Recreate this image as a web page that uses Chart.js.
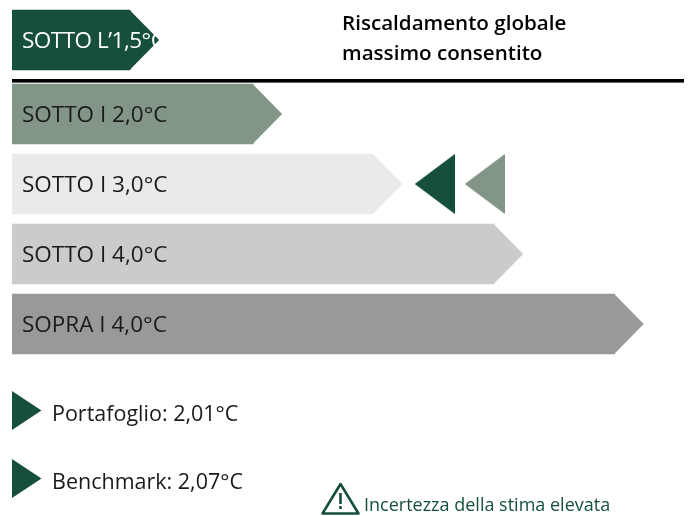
<!DOCTYPE html>
<html>
<head>
<meta charset="utf-8">
<style>
  html, body { margin: 0; padding: 0; background: #fff; }
  canvas { display: block; }
</style>
<script src="https://cdn.jsdelivr.net/npm/chart.js@4"></script>
</head>
<body>
<canvas id="tempChart" width="690" height="516"></canvas>
<script>
// categories and bar lengths (in band units, each band is one step on the scale)
const categories = ['SOTTO L\u20191,5°C', 'SOTTO I 2,0°C', 'SOTTO I 3,0°C', 'SOTTO I 4,0°C', 'SOPRA I 4,0°C'];
const barLengths = [0.98, 2, 3, 4, 5];
const rowPositions = [0.943, 2, 3, 4, 5];
const barColors = ['#174f3f', '#839586', '#ebe9ea', '#cbcbcb', '#999999'];
const labelColors = ['#ffffff', '#1a1a1a', '#1a1a1a', '#1a1a1a', '#1a1a1a'];

// where the two markers sit inside the 3,0°C row
const portfolioMarker = [3.507];
const benchmarkMarker = [3.922];
const markerRow = [3];

const titleLines = ['Riscaldamento globale', 'massimo consentito'];
const legendLabels = ['Portafoglio: 2,01°C', 'Benchmark: 2,07°C'];
const warningLabel = 'Incertezza della stima elevata';

const DARK = '#174f3f';
const SAGE = '#839586';
const FONT = '"Open Sans", sans-serif';

// left pointing triangle used as point image
function triangleImage(color) {
    const c = document.createElement('canvas');
    c.width = 40;
    c.height = 60;
    const g = c.getContext('2d');
    g.fillStyle = color;
    g.beginPath();
    g.moveTo(0, 30);
    g.lineTo(40, 0);
    g.lineTo(40, 60);
    g.closePath();
    g.fill();
    return c;
}

// arrow tips and the labels on the bars
const barDecor = {
    id: 'barDecor',
    afterDatasetsDraw(chart) {
        const ctx = chart.ctx;
        const bars = chart.getDatasetMeta(0).data;
        ctx.save();
        bars.forEach((bar, i) => {
            ctx.fillStyle = barColors[i];
            ctx.beginPath();
            ctx.moveTo(bar.x - 0.5, bar.y - 30);
            ctx.lineTo(bar.x + 29, bar.y);
            ctx.lineTo(bar.x - 0.5, bar.y + 30);
            ctx.closePath();
            ctx.fill();

            ctx.fillStyle = labelColors[i];
            ctx.font = '22.5px ' + FONT;
            ctx.letterSpacing = i === 0 ? '-0.5px' : '0px'; // first label runs into the tip
            ctx.textAlign = 'left';
            ctx.textBaseline = 'alphabetic';
            ctx.fillText(categories[i], 22, bar.y + 8);
        });
        ctx.restore();
    }
};

// header, rule, legend and warning note
const pageDecor = {
    id: 'pageDecor',
    afterDraw(chart) {
        const ctx = chart.ctx;
        ctx.save();
        ctx.textAlign = 'left';
        ctx.textBaseline = 'alphabetic';

        ctx.fillStyle = '#000';
        ctx.font = '600 20.6px ' + FONT;
        ctx.fillText(titleLines[0], 342, 30);
        ctx.fillText(titleLines[1], 342, 60);
        ctx.fillRect(12, 79, 672, 3.6);

        [391, 459].forEach((top, i) => {
            ctx.fillStyle = DARK;
            ctx.beginPath();
            ctx.moveTo(12, top);
            ctx.lineTo(41.5, top + 19.5);
            ctx.lineTo(12, top + 39);
            ctx.closePath();
            ctx.fill();
            ctx.fillStyle = '#1a1a1a';
            ctx.font = '21.5px ' + FONT;
            ctx.fillText(legendLabels[i], 52, top + 30);
        });

        ctx.strokeStyle = DARK;
        ctx.lineWidth = 2.6;
        ctx.lineJoin = 'round';
        ctx.beginPath();
        ctx.moveTo(340.5, 484);
        ctx.lineTo(358.5, 513.5);
        ctx.lineTo(322.5, 513.5);
        ctx.closePath();
        ctx.stroke();
        ctx.fillStyle = DARK;
        ctx.fillRect(339.2, 493, 2.6, 11);
        ctx.fillRect(339.2, 506, 2.6, 3);

        ctx.font = '18px ' + FONT;
        ctx.fillText(warningLabel, 364, 511);
        ctx.restore();
    }
};

new Chart(document.getElementById('tempChart').getContext('2d'), {
    data: {
        datasets: [
            {
                type: 'bar',
                indexAxis: 'y',
                data: barLengths.map((v, i) => ({ x: v, y: rowPositions[i] })),
                backgroundColor: barColors,
                borderWidth: 0,
                barThickness: 60
            },
            {
                type: 'scatter',
                label: 'Portafoglio',
                data: portfolioMarker.map((v, i) => ({ x: v, y: markerRow[i] })),
                pointStyle: triangleImage(DARK)
            },
            {
                type: 'scatter',
                label: 'Benchmark',
                data: benchmarkMarker.map((v, i) => ({ x: v, y: markerRow[i] })),
                pointStyle: triangleImage(SAGE)
            }
        ]
    },
    options: {
        responsive: false,
        animation: false,
        devicePixelRatio: 1,
        layout: { autoPadding: false, padding: { left: 12, right: 15, top: 2, bottom: 150 } },
        plugins: {
            legend: { display: false },
            tooltip: { enabled: false }
        },
        scales: {
            x: { type: 'linear', min: 0, max: 5.5, offset: false, display: false },
            y: { type: 'linear', min: 0.4, max: 5.6, offset: false, reverse: true, display: false }
        }
    },
    plugins: [barDecor, pageDecor]
});
</script>
</body>
</html>
